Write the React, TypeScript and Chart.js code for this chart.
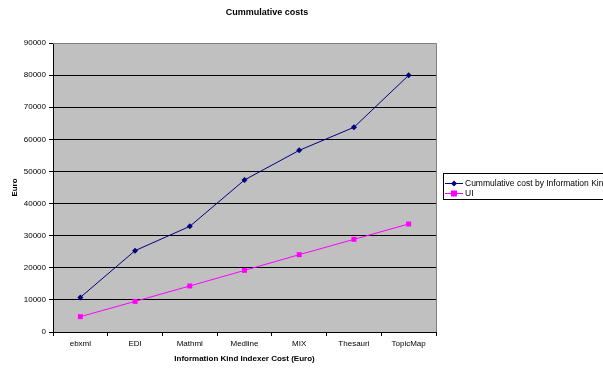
import React, { useEffect, useRef } from "react";
import { Chart, registerables } from "chart.js";

Chart.register(...registerables);

const categories = ["ebxml", "EDI", "Mathml", "Medline", "MIX", "Thesauri", "TopicMap"];
const cumulativeCost = [10780, 25330, 32900, 47350, 56570, 63740, 79940];
const uiCost = [4770, 9530, 14330, 19190, 24080, 28850, 33640];
const yTicks = [0, 10000, 20000, 30000, 40000, 50000, 60000, 70000, 80000, 90000];
const seriesNames = ["Cummulative cost by Information Kind", "UI"];
const chartTitle = "Cummulative costs";
const xTitle = "Information Kind Indexer Cost (Euro)";
const yTitle = "Euro";

const FONT = "'Liberation Sans', Arial, sans-serif";
const BLUE = "#000080";
const PINK = "#FF00FF";

const decorPlugin = {
  id: "decor",
  beforeDraw(chart: any) {
    const { ctx, chartArea } = chart;
    ctx.save();
    ctx.fillStyle = "#C0C0C0";
    ctx.fillRect(chartArea.left, chartArea.top, chartArea.right - chartArea.left, chartArea.bottom - chartArea.top);
    ctx.restore();
  },
  afterDraw(chart: any) {
    const { ctx, chartArea } = chart;
    ctx.save();
    ctx.strokeStyle = "#808080";
    ctx.lineWidth = 1;
    ctx.beginPath();
    ctx.moveTo(chartArea.left, chartArea.top + 0.5);
    ctx.lineTo(chartArea.right + 0.5, chartArea.top + 0.5);
    ctx.lineTo(chartArea.right + 0.5, chartArea.bottom);
    ctx.stroke();

    ctx.fillStyle = "#000";
    ctx.textAlign = "center";
    ctx.textBaseline = "middle";
    ctx.font = `bold 9px ${FONT}`;
    ctx.fillText(chartTitle, 267, 13);
    ctx.font = `bold 8px ${FONT}`;
    ctx.fillText(xTitle, (chartArea.left + chartArea.right) / 2, 359);
    ctx.save();
    ctx.translate(15, (chartArea.top + chartArea.bottom) / 2);
    ctx.rotate(-Math.PI / 2);
    ctx.fillText(yTitle, 0, 0);
    ctx.restore();

    // legend
    ctx.strokeStyle = "#000";
    ctx.lineWidth = 1;
    ctx.strokeRect(443.5, 173.5, 220, 26);
    const rows = [
      { y: 183.5, color: BLUE, style: "diamond" },
      { y: 193.5, color: PINK, style: "square" },
    ];
    rows.forEach((r, i) => {
      ctx.strokeStyle = r.color;
      ctx.beginPath();
      ctx.moveTo(445, r.y);
      ctx.lineTo(463, r.y);
      ctx.stroke();
      ctx.fillStyle = r.color;
      if (r.style === "diamond") {
        ctx.beginPath();
        ctx.moveTo(454, r.y - 3);
        ctx.lineTo(457, r.y);
        ctx.lineTo(454, r.y + 3);
        ctx.lineTo(451, r.y);
        ctx.closePath();
        ctx.fill();
      } else {
        ctx.fillRect(451, r.y - 3, 6, 6);
      }
      ctx.fillStyle = "#000";
      ctx.textAlign = "left";
      ctx.font = `8.5px ${FONT}`;
      ctx.fillText(seriesNames[i], 465, r.y);
    });
    ctx.restore();
  },
};

export default function App() {
  const ref = useRef<HTMLCanvasElement>(null);
  useEffect(() => {
    if (!ref.current) return;
    const chart = new Chart(ref.current, {
      type: "line",
      data: {
        labels: categories,
        datasets: [
          {
            label: seriesNames[0],
            data: cumulativeCost,
            borderColor: BLUE,
            backgroundColor: BLUE,
            borderWidth: 1,
            pointStyle: "rectRot",
            pointRadius: 3,
            pointBorderWidth: 0,
            tension: 0,
          },
          {
            label: seriesNames[1],
            data: uiCost,
            borderColor: PINK,
            backgroundColor: PINK,
            borderWidth: 1,
            pointStyle: "rect",
            pointRadius: 3.5,
            pointBorderWidth: 0,
            tension: 0,
          },
        ],
      },
      options: {
        responsive: false,
        animation: false,
        devicePixelRatio: 1,
        layout: { padding: { top: 43, right: 167, left: 0, bottom: 0 } },
        plugins: {
          legend: { display: false },
          title: { display: false },
          tooltip: { enabled: false },
        },
        scales: {
          x: {
            offset: true,
            grid: {
              offset: true,
              drawOnChartArea: false,
              drawTicks: true,
              tickLength: 4,
              color: "#000",
            },
            border: { color: "#000", width: 1 },
            ticks: { color: "#000", font: { family: FONT, size: 8 }, padding: 3, maxRotation: 0, autoSkip: false },
            afterFit: (s: any) => {
              s.height = 37;
            },
          },
          y: {
            min: 0,
            max: 90000,
            afterBuildTicks: (s: any) => {
              s.ticks = yTicks.map((v) => ({ value: v }));
            },
            grid: {
              color: "#000",
              tickLength: 4,
              lineWidth: 1,
            },
            border: { color: "#000", width: 1 },
            ticks: {
              color: "#000",
              font: { family: FONT, size: 8 },
              padding: 3,
              callback: (v: any) => String(v),
            },
            afterFit: (s: any) => {
              s.width = 53;
            },
          },
        },
      },
      plugins: [decorPlugin],
    });
    return () => chart.destroy();
  }, []);
  return (
    <div style={{ position: "fixed", left: 0, top: 0, width: 603, height: 369, background: "#fff" }}>
      <canvas ref={ref} width={603} height={369} />
    </div>
  );
}
